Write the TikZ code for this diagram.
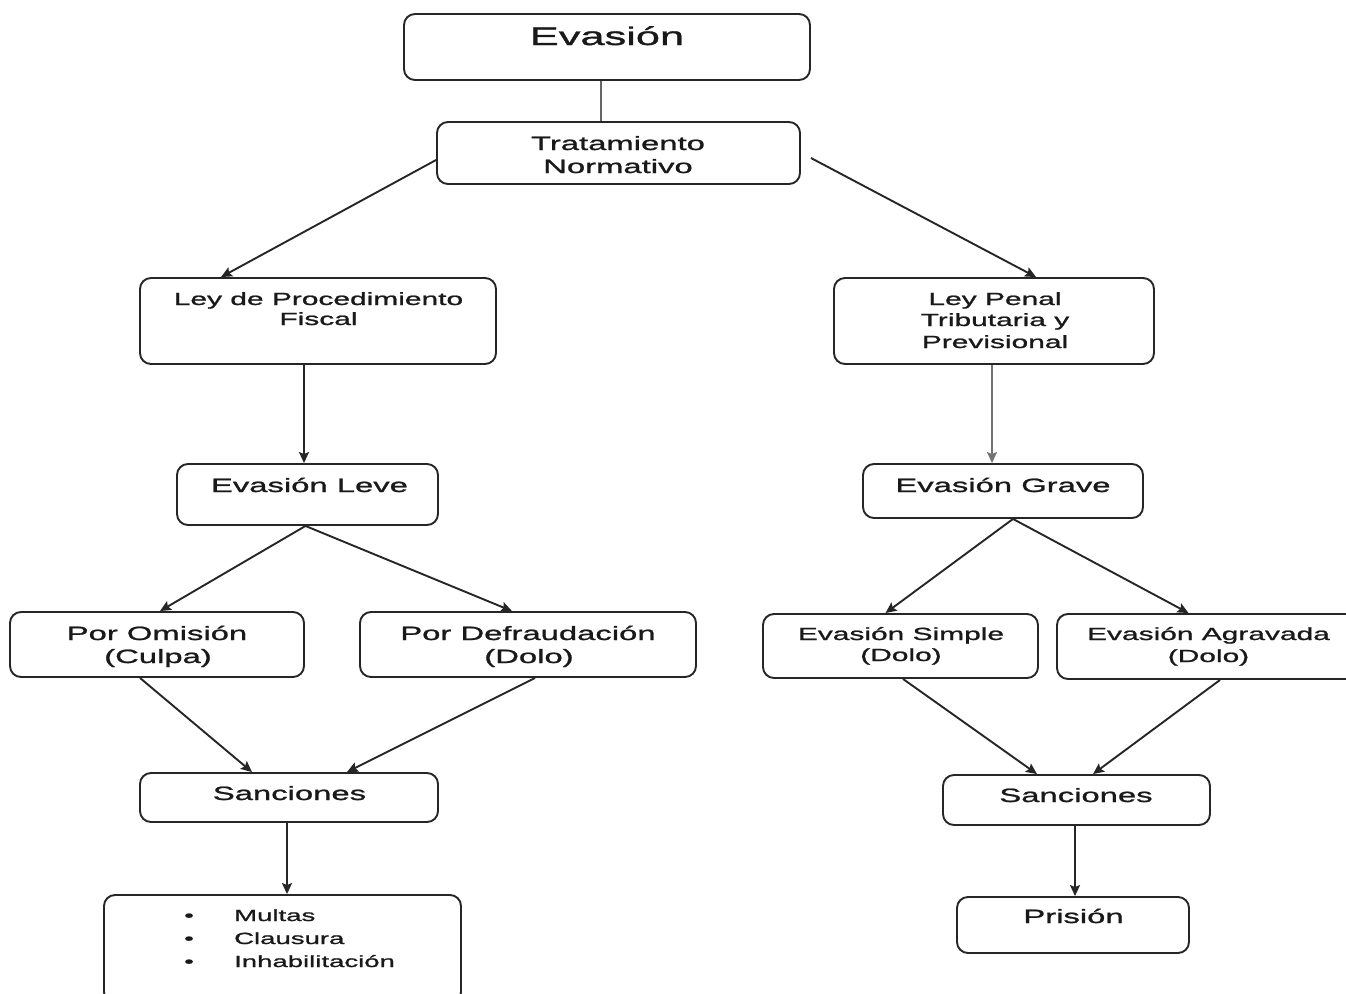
\documentclass[tikz,border=0pt]{standalone}
\usepackage{fontspec}
\setmainfont{Liberation Sans}[FakeStretch=1.7,FakeBold=1.2]
\usetikzlibrary{arrows.meta}
\begin{document}
\begin{tikzpicture}[x=1pt,y=-1pt,
  box/.style={draw=black!85, line width=1.9pt, rounded corners=11pt, inner sep=0pt},
  ta/.style={inner sep=0pt, anchor=base, text=black!90, font=\fontsize{19.3}{22}\selectfont},
  tb/.style={inner sep=0pt, anchor=base, text=black!90, font=\fontsize{17.6}{21}\selectfont},
  tbig/.style={inner sep=0pt, anchor=base, text=black!90, font=\fontsize{25.5}{30}\selectfont},
  tsm/.style={inner sep=0pt, anchor=base west, text=black!90, font=\fontsize{16.2}{20}\selectfont},
  arr/.style={draw=black!85, line width=1.9pt, -{Stealth[length=11pt,width=10pt,inset=2pt]}},
  garr/.style={arr, draw=black!55},
  link/.style={draw=black!60, line width=2pt},
]
\useasboundingbox (0,0) rectangle (1346,993);
\begin{scope}
\clip (0,0) rectangle (1346,993);
% boxes
\node[box, minimum width=406, minimum height=66] (ev) at (607,47) {};
\node[box, minimum width=363, minimum height=62] (trat) at (618.5,153) {};
\node[box, minimum width=356, minimum height=86] (lpf) at (318,321) {};
\node[box, minimum width=320, minimum height=86] (lpt) at (994,321) {};
\node[box, minimum width=261, minimum height=61] (leve) at (307.5,494.5) {};
\node[box, minimum width=280, minimum height=54] (grave) at (1003,491) {};
\node[box, minimum width=294, minimum height=65] (omi) at (157,644.5) {};
\node[box, minimum width=336, minimum height=65] (def) at (528,644.5) {};
\node[box, minimum width=275, minimum height=64] (sim) at (900.5,646) {};
\node[box, minimum width=303, minimum height=65] (agr) at (1208.5,646.5) {};
\node[box, minimum width=298, minimum height=49] (sanL) at (289,797.5) {};
\node[box, minimum width=267, minimum height=50] (sanR) at (1076.5,800) {};
\node[box, minimum width=357, minimum height=108] (list) at (282.5,949) {};
\node[box, minimum width=232, minimum height=56] (pris) at (1073,925) {};
\end{scope}

% texts
\node[tbig] (evT) at (607,45) {Evasión};
\node[ta] (tratT1) at (618,150) {Tratamiento};
\node[ta] (tratT2) at (618,173) {Normativo};
\node[tb] (lpfT1) at (318.5,305) {Ley de Procedimiento};
\node[tb] (lpfT2) at (318.5,325) {Fiscal};
\node[tb] (lptT1) at (995,305) {Ley Penal};
\node[tb] (lptT2) at (995,326) {Tributaria y};
\node[tb] (lptT3) at (995,348) {Previsional};
\node[ta] (leveT) at (309.5,492) {Evasión Leve};
\node[ta] (graveT) at (1003,492) {Evasión Grave};
\node[ta] (omiT1) at (157,640) {Por Omisión};
\node[ta] (omiT2) at (158,663) {(Culpa)};
\node[ta] (defT1) at (528,640) {Por Defraudación};
\node[ta] (defT2) at (529,663) {(Dolo)};
\node[tb] (simT1) at (901,640) {Evasión Simple};
\node[tb] (simT2) at (901,661) {(Dolo)};
\node[tb] (agrT1) at (1208.5,640) {Evasión Agravada};
\node[tb] (agrT2) at (1208.5,662) {(Dolo)};
\node[ta] (sanLT) at (289.5,800) {Sanciones};
\node[ta] (sanRT) at (1076,802) {Sanciones};
\node[ta] (prisT) at (1073.5,923) {Prisión};
\node[tsm] (b1) at (184,921) {•};
\node[tsm] (b2) at (184,944) {•};
\node[tsm] (b3) at (184,967) {•};
\node[tsm] (l1) at (234,921) {Multas};
\node[tsm] (l2) at (234,944) {Clausura};
\node[tsm] (l3) at (234,967) {Inhabilitación};

% connectors
\coordinate (c0) at ([xshift=-6pt]ev.south);
\draw[link] (c0) -- (c0 |- trat.north);
\draw[arr] ([yshift=-7pt]trat.west) -- ([xshift=82pt]lpf.north west);
\draw[arr] ([xshift=10pt,yshift=-5pt]trat.east) -- ([xshift=203pt]lpt.north west);
\coordinate (c1) at ([xshift=-14pt]lpf.south);
\draw[arr] (c1) -- (c1 |- leve.north);
\coordinate (c2) at ([xshift=-2pt]lpt.south);
\draw[garr] (c2) -- (c2 |- grave.north);
\draw[arr] ([xshift=-2pt]leve.south) -- ([xshift=3pt]omi.north);
\draw[arr] ([xshift=-2pt]leve.south) -- ([xshift=-16pt]def.north);
\draw[arr] ([xshift=10pt]grave.south) -- ([xshift=-15pt]sim.north);
\draw[arr] ([xshift=10pt]grave.south) -- ([xshift=-20pt]agr.north);
\draw[arr] ([xshift=-17pt]omi.south) -- ([xshift=-37pt]sanL.north);
\draw[arr] ([xshift=7pt]def.south) -- ([xshift=58pt]sanL.north);
\draw[arr] ([xshift=2.5pt]sim.south) -- ([xshift=-39.5pt]sanR.north);
\draw[arr] ([xshift=11.5pt]agr.south) -- ([xshift=16.5pt]sanR.north);
\coordinate (c3) at ([xshift=-2pt]sanL.south);
\draw[arr] (c3) -- (c3 |- list.north);
\coordinate (c4) at ([xshift=-1.5pt]sanR.south);
\draw[arr] (c4) -- (c4 |- pris.north);
\end{tikzpicture}
\end{document}
